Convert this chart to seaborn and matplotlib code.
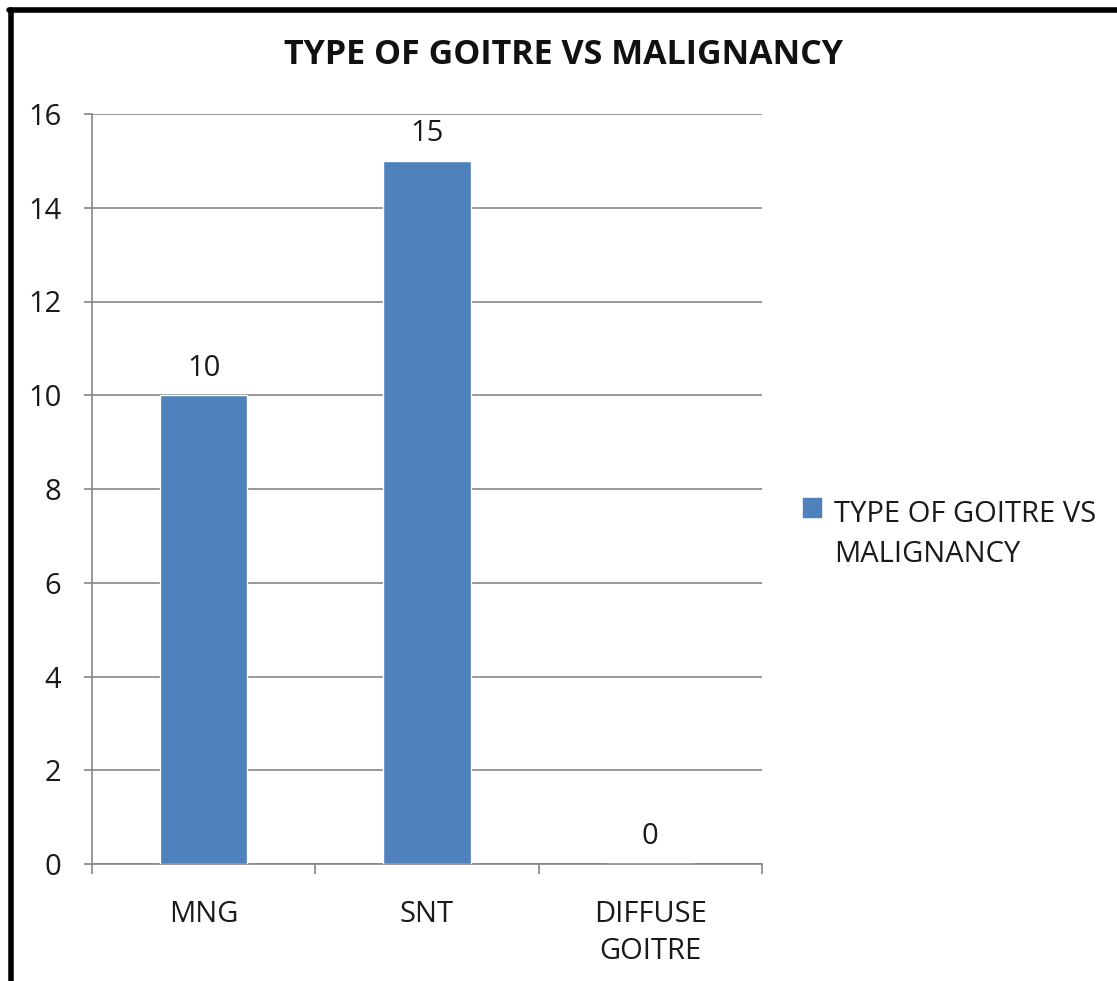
import matplotlib
matplotlib.use("Agg")
import matplotlib.pyplot as plt
from matplotlib.lines import Line2D
from matplotlib.patches import Patch, Rectangle
from matplotlib.legend_handler import HandlerPatch
import seaborn as sns
import pandas as pd

categories = ["MNG", "SNT", "DIFFUSE\nGOITRE"]
values = [10, 15, 0]
series_name = "TYPE OF GOITRE VS MALIGNANCY"
legend_label = "TYPE OF GOITRE VS\nMALIGNANCY"
y_ticks = [0, 2, 4, 6, 8, 10, 12, 14, 16]

sns.set_theme(style="white")
plt.rcParams["font.family"] = ["Open Sans", "DejaVu Sans"]

bar_color = "#4F81BD"
grid_color = "#868686"
text_color = "#1a1a1a"
fs = 21

df = pd.DataFrame({"type": categories, "count": values})

W, H = 1117, 981
fig = plt.figure(figsize=(W / 100, H / 100), dpi=100)
ax = fig.add_axes([92 / W, 1 - 864 / H, (762 - 92) / W, (864 - 114) / H])

sns.barplot(data=df, x="type", y="count", color=bar_color, width=0.39,
            saturation=1, ax=ax, zorder=3)

ax.set_xlim(-0.5, 2.5)
ax.set_ylim(0, 16)
ax.set_yticks(y_ticks)
ax.set_yticklabels([str(t) for t in y_ticks])
ax.yaxis.grid(True, color=grid_color, linewidth=1.2, zorder=0)
ax.set_axisbelow(True)
ax.set_xlabel("")
ax.set_ylabel("")

for side in ["top", "right"]:
    ax.spines[side].set_visible(False)
for side in ["left", "bottom"]:
    ax.spines[side].set_color(grid_color)
    ax.spines[side].set_linewidth(1.2)

ax.tick_params(axis="y", which="major", left=True, length=6, width=1.2,
               color=grid_color, labelsize=fs, pad=16, labelcolor=text_color)
ax.tick_params(axis="x", which="major", bottom=False, labelsize=fs, pad=20,
               labelcolor=text_color)
for lbl in ax.get_xticklabels():
    lbl.set_linespacing(1.35)
ax.set_xticks([-0.5, 0.5, 1.5, 2.5], minor=True)
ax.tick_params(axis="x", which="minor", bottom=True, length=7, width=1.2,
               color=grid_color)

for container in ax.containers:
    ax.bar_label(container, labels=[str(v) for v in values], padding=9,
                 fontsize=fs, color=text_color)

fig.text(564 / W, 1 - 55 / H, series_name, ha="center",
         va="center", fontsize=24.5, fontweight="bold", color="#111111")


def top_aligned_square(legend, orig_handle, xdescent, ydescent, width,
                       height, fontsize):
    # square key lined up with the first line of a two-line label
    return Rectangle((-xdescent, -ydescent + 0.95 * fontsize), width, height)


handles = [Patch(facecolor=bar_color, edgecolor=bar_color)]
leg = fig.legend(handles, [legend_label], loc="upper left",
                 bbox_to_anchor=(777 / W, 1 - 474 / H), frameon=False,
                 fontsize=fs, handlelength=0.6, handleheight=0.6,
                 handletextpad=0.45, labelcolor=text_color,
                 handler_map={Patch: HandlerPatch(patch_func=top_aligned_square)})
for t in leg.get_texts():
    t.set_linespacing(1.5)

# outer frame on the top and left edges
fig.add_artist(Line2D([11 / W, 11 / W], [0, 1 - 10 / H], color="black",
                      linewidth=4, transform=fig.transFigure))
fig.add_artist(Line2D([9 / W, 1], [1 - 10 / H, 1 - 10 / H], color="black",
                      linewidth=4, transform=fig.transFigure))

fig.savefig("out.png", dpi=100)
